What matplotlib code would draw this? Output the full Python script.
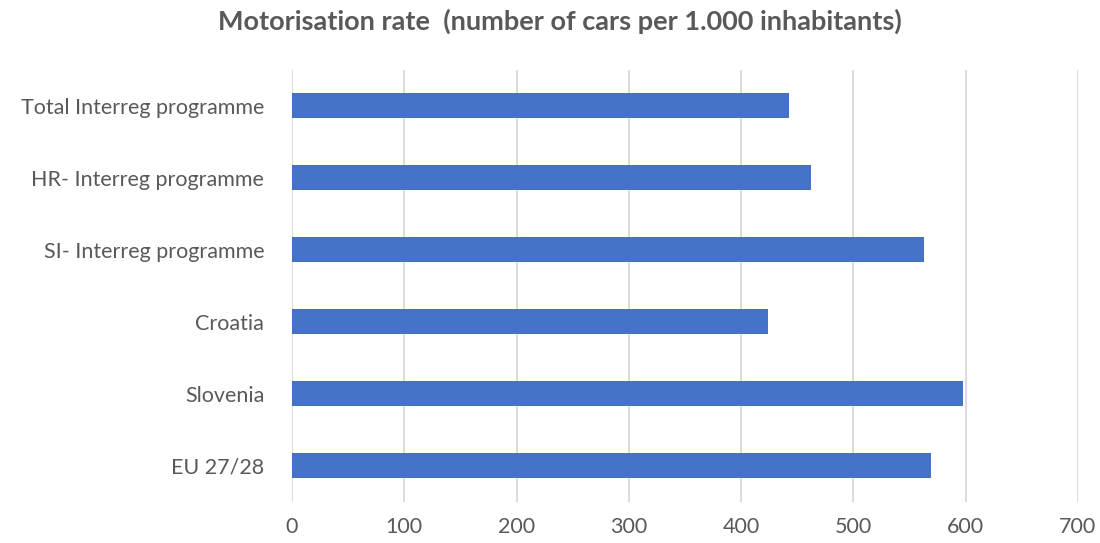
import numpy as np
import matplotlib.pyplot as plt

categories = ["Total Interreg programme", "HR- Interreg programme", "SI- Interreg programme",
              "Croatia", "Slovenia", "EU 27/28"]
values = [443, 462, 563, 424, 598, 569]
xticks = [0, 100, 200, 300, 400, 500, 600, 700]

plt.rcParams['font.family'] = ['Lato', 'DejaVu Sans']

fig = plt.figure(figsize=(11, 5.43), dpi=100)
ax = fig.add_axes([0.2655, 0.0764, 0.7145, 0.7956])

y = np.arange(len(categories))
ax.barh(y, values, height=0.35, color="#4472C4", zorder=2)
ax.set_ylim(len(categories) - 0.5, -0.5)
ax.set_xlim(0, 700)
ax.set_xticks(xticks)
ax.set_yticks(y)
ax.set_yticklabels(categories)

ax.grid(axis='x', color="#d9d9d9", linewidth=1.3, zorder=0)
for s in ax.spines.values():
    s.set_visible(False)
ax.tick_params(axis='both', length=0, colors="#595959", labelsize=15.5)
ax.tick_params(axis='x', pad=11)
ax.tick_params(axis='y', pad=20)

fig.text(0.509, 0.96, "Motorisation rate  (number of cars per 1.000 inhabitants)",
         ha='center', va='center', fontsize=19.5, fontweight='bold', color="#595959")

fig.savefig("out.png", dpi=100)
